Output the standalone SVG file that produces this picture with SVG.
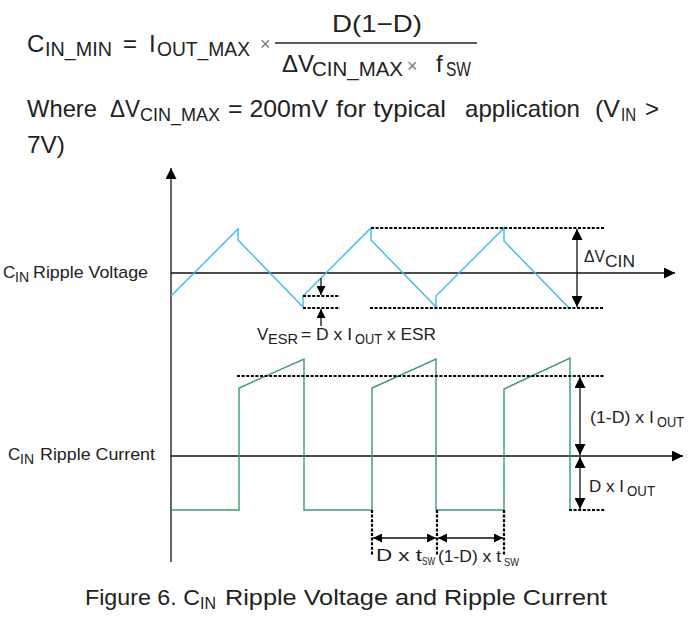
<svg xmlns="http://www.w3.org/2000/svg" width="692" height="627" viewBox="0 0 692 627">
<defs>
<style>
text{font-family:"Liberation Sans",Arial,sans-serif;fill:#222}
.m{font-size:24px}
.s{font-size:20px}
.l{font-size:17px}
.ls{font-size:14px}
.op{font-size:18px;fill:#777}
.ax{stroke:#111;stroke-width:1.3;fill:none}
.dash{stroke:#000;stroke-width:2.2;stroke-dasharray:3 1.6;fill:none}
.blue{stroke:#3BBCE3;stroke-width:1.4;fill:none;stroke-linejoin:miter}
.green{stroke:#3C9A6C;stroke-width:1.4;fill:none}
.dim{stroke:#111;stroke-width:1.3;fill:none}
</style>
<marker id="ah" viewBox="0 0 10 10" refX="10" refY="5" markerWidth="11" markerHeight="11" markerUnits="userSpaceOnUse" orient="auto-start-reverse"><path d="M0,0 L10,5 L0,10 z" fill="#000"/></marker>
<marker id="sh" viewBox="0 0 10 10" refX="10" refY="5" markerWidth="9" markerHeight="9" markerUnits="userSpaceOnUse" orient="auto-start-reverse"><path d="M0,0 L10,5 L0,10 z" fill="#000"/></marker>
</defs>
<rect width="692" height="627" fill="#fff"/>

<g id="formula">
<text class="m" x="27" y="52">C</text>
<text class="s" x="45" y="56" textLength="67" lengthAdjust="spacingAndGlyphs">IN_MIN</text>
<text class="m" x="123" y="52">=</text>
<text class="m" x="149" y="52">I</text>
<text class="s" x="157" y="56" textLength="93" lengthAdjust="spacingAndGlyphs">OUT_MAX</text>
<text class="op" x="260" y="50">×</text>
<line x1="275" y1="43" x2="477" y2="43" stroke="#222" stroke-width="1.6"/>
<text class="m" x="332" y="32" textLength="90" lengthAdjust="spacingAndGlyphs">D(1−D)</text>
<text class="m" x="282" y="72">ΔV</text>
<text class="s" x="312" y="76" textLength="91" lengthAdjust="spacingAndGlyphs">CIN_MAX</text>
<text class="op" x="407" y="72">×</text>
<text class="m" x="436" y="72">f</text>
<text class="s" x="446" y="76" textLength="25" lengthAdjust="spacingAndGlyphs">SW</text>
</g>

<g id="where">
<text class="m" x="27" y="117" textLength="70" lengthAdjust="spacingAndGlyphs">Where</text>
<text class="m" x="110" y="117" textLength="30" lengthAdjust="spacingAndGlyphs">ΔV</text>
<text class="s" x="140" y="121" style="font-size:18px" textLength="80" lengthAdjust="spacingAndGlyphs">CIN_MAX</text>
<text class="m" x="228" y="117" textLength="100" lengthAdjust="spacingAndGlyphs">= 200mV</text>
<text class="m" x="336" y="117" textLength="110" lengthAdjust="spacingAndGlyphs">for typical</text>
<text class="m" x="465" y="117" textLength="115" lengthAdjust="spacingAndGlyphs">application</text>
<text class="m" x="595" y="117" textLength="25" lengthAdjust="spacingAndGlyphs">(V</text>
<text class="s" x="621" y="121" style="font-size:18px" textLength="15" lengthAdjust="spacingAndGlyphs">IN</text>
<text class="m" x="645" y="117">&gt;</text>
<text class="m" x="27" y="153" textLength="38" lengthAdjust="spacingAndGlyphs">7V)</text>
</g>

<g id="axes">
<line class="ax" x1="171" y1="562" x2="171" y2="168" marker-end="url(#ah)"/>
<line class="ax" x1="171" y1="273" x2="675" y2="273" marker-end="url(#ah)"/>
<line class="ax" x1="171" y1="456" x2="683" y2="456" marker-end="url(#ah)"/>
</g>

<g id="axis-labels">
<text class="l" x="3" y="278">C</text>
<text class="ls" x="15" y="282">IN</text>
<text class="l" x="33" y="278" textLength="115" lengthAdjust="spacingAndGlyphs">Ripple Voltage</text>
<text class="l" x="8" y="460">C</text>
<text class="ls" x="20" y="464">IN</text>
<text class="l" x="40" y="460" textLength="115" lengthAdjust="spacingAndGlyphs">Ripple Current</text>
</g>

<g id="voltage-wave">
<polyline class="blue" points="171,296 238,229 238,240 303,307 303,296 371,228 371,240 436,307 436,296 504,228 504,241 569,308"/>
</g>

<g id="current-wave">
<polyline class="green" points="171,510 239,510 239,388 304,359 304,510 372,510 372,388 436,359 436,510 504,510 504,389 570,358 570,510"/>
</g>

<g id="connectors">
<line class="dash" x1="371" y1="228" x2="604" y2="228"/>
<line class="dash" x1="370" y1="308" x2="604" y2="308"/>
<line class="dash" x1="303" y1="296" x2="340" y2="296"/>
<line class="dash" x1="303" y1="308" x2="340" y2="308"/>
<line class="dash" x1="237" y1="376" x2="604" y2="376"/>
<line class="dash" x1="569" y1="510" x2="605" y2="510"/>
<line class="dash" x1="372" y1="510" x2="372" y2="555"/>
<line class="dash" x1="437" y1="510" x2="437" y2="555"/>
<line class="dash" x1="504" y1="510" x2="504" y2="555"/>
<line class="dim" x1="577" y1="229" x2="577" y2="307" marker-start="url(#ah)" marker-end="url(#ah)"/>
<line class="dim" x1="321" y1="278" x2="321" y2="295" marker-end="url(#sh)"/>
<line class="dim" x1="321" y1="326" x2="321" y2="309" marker-end="url(#sh)"/>
<line class="dim" x1="580" y1="377" x2="580" y2="455" marker-start="url(#ah)" marker-end="url(#ah)"/>
<line class="dim" x1="580" y1="457" x2="580" y2="509" marker-start="url(#ah)" marker-end="url(#ah)"/>
<line class="dim" x1="373" y1="538" x2="436" y2="538" marker-start="url(#sh)" marker-end="url(#sh)"/>
<line class="dim" x1="438" y1="538" x2="503" y2="538" marker-start="url(#sh)" marker-end="url(#sh)"/>
</g>

<g id="dim-labels">
<text class="l" x="584" y="262" textLength="21" lengthAdjust="spacingAndGlyphs">ΔV</text>
<text class="ls" x="605" y="267" style="font-size:16px" textLength="30" lengthAdjust="spacingAndGlyphs">CIN</text>
<text class="l" x="257" y="340">V</text>
<text class="ls" x="268" y="344" style="font-size:15px" textLength="30" lengthAdjust="spacingAndGlyphs">ESR</text>
<text class="l" x="301" y="340" textLength="51" lengthAdjust="spacingAndGlyphs">= D x I</text>
<text class="ls" x="355" y="344" style="font-size:15px" textLength="27" lengthAdjust="spacingAndGlyphs">OUT</text>
<text class="l" x="387" y="340" textLength="49" lengthAdjust="spacingAndGlyphs">x ESR</text>
<text class="l" x="590" y="423" textLength="64" lengthAdjust="spacingAndGlyphs">(1-D) x I</text>
<text class="ls" x="657" y="427" style="font-size:15px" textLength="27" lengthAdjust="spacingAndGlyphs">OUT</text>
<text class="l" x="589" y="492" textLength="35" lengthAdjust="spacingAndGlyphs">D x I</text>
<text class="ls" x="627" y="496" style="font-size:15px" textLength="28" lengthAdjust="spacingAndGlyphs">OUT</text>
<text class="l" x="376" y="561" textLength="46" lengthAdjust="spacingAndGlyphs">D x t</text>
<text class="ls" x="422" y="565" style="font-size:11px" textLength="13" lengthAdjust="spacingAndGlyphs">SW</text>
<text class="l" x="438" y="562" textLength="63" lengthAdjust="spacingAndGlyphs">(1-D) x t</text>
<text class="ls" x="504" y="566" style="font-size:11px" textLength="15" lengthAdjust="spacingAndGlyphs">SW</text>
</g>

<g id="caption">
<text x="85" y="605" style="font-size:22px" textLength="115" lengthAdjust="spacingAndGlyphs">Figure 6. C</text>
<text x="200" y="609" style="font-size:17px" textLength="16" lengthAdjust="spacingAndGlyphs">IN</text>
<text x="225" y="605" style="font-size:22px" textLength="382" lengthAdjust="spacingAndGlyphs">Ripple Voltage and Ripple Current</text>
</g>
</svg>
